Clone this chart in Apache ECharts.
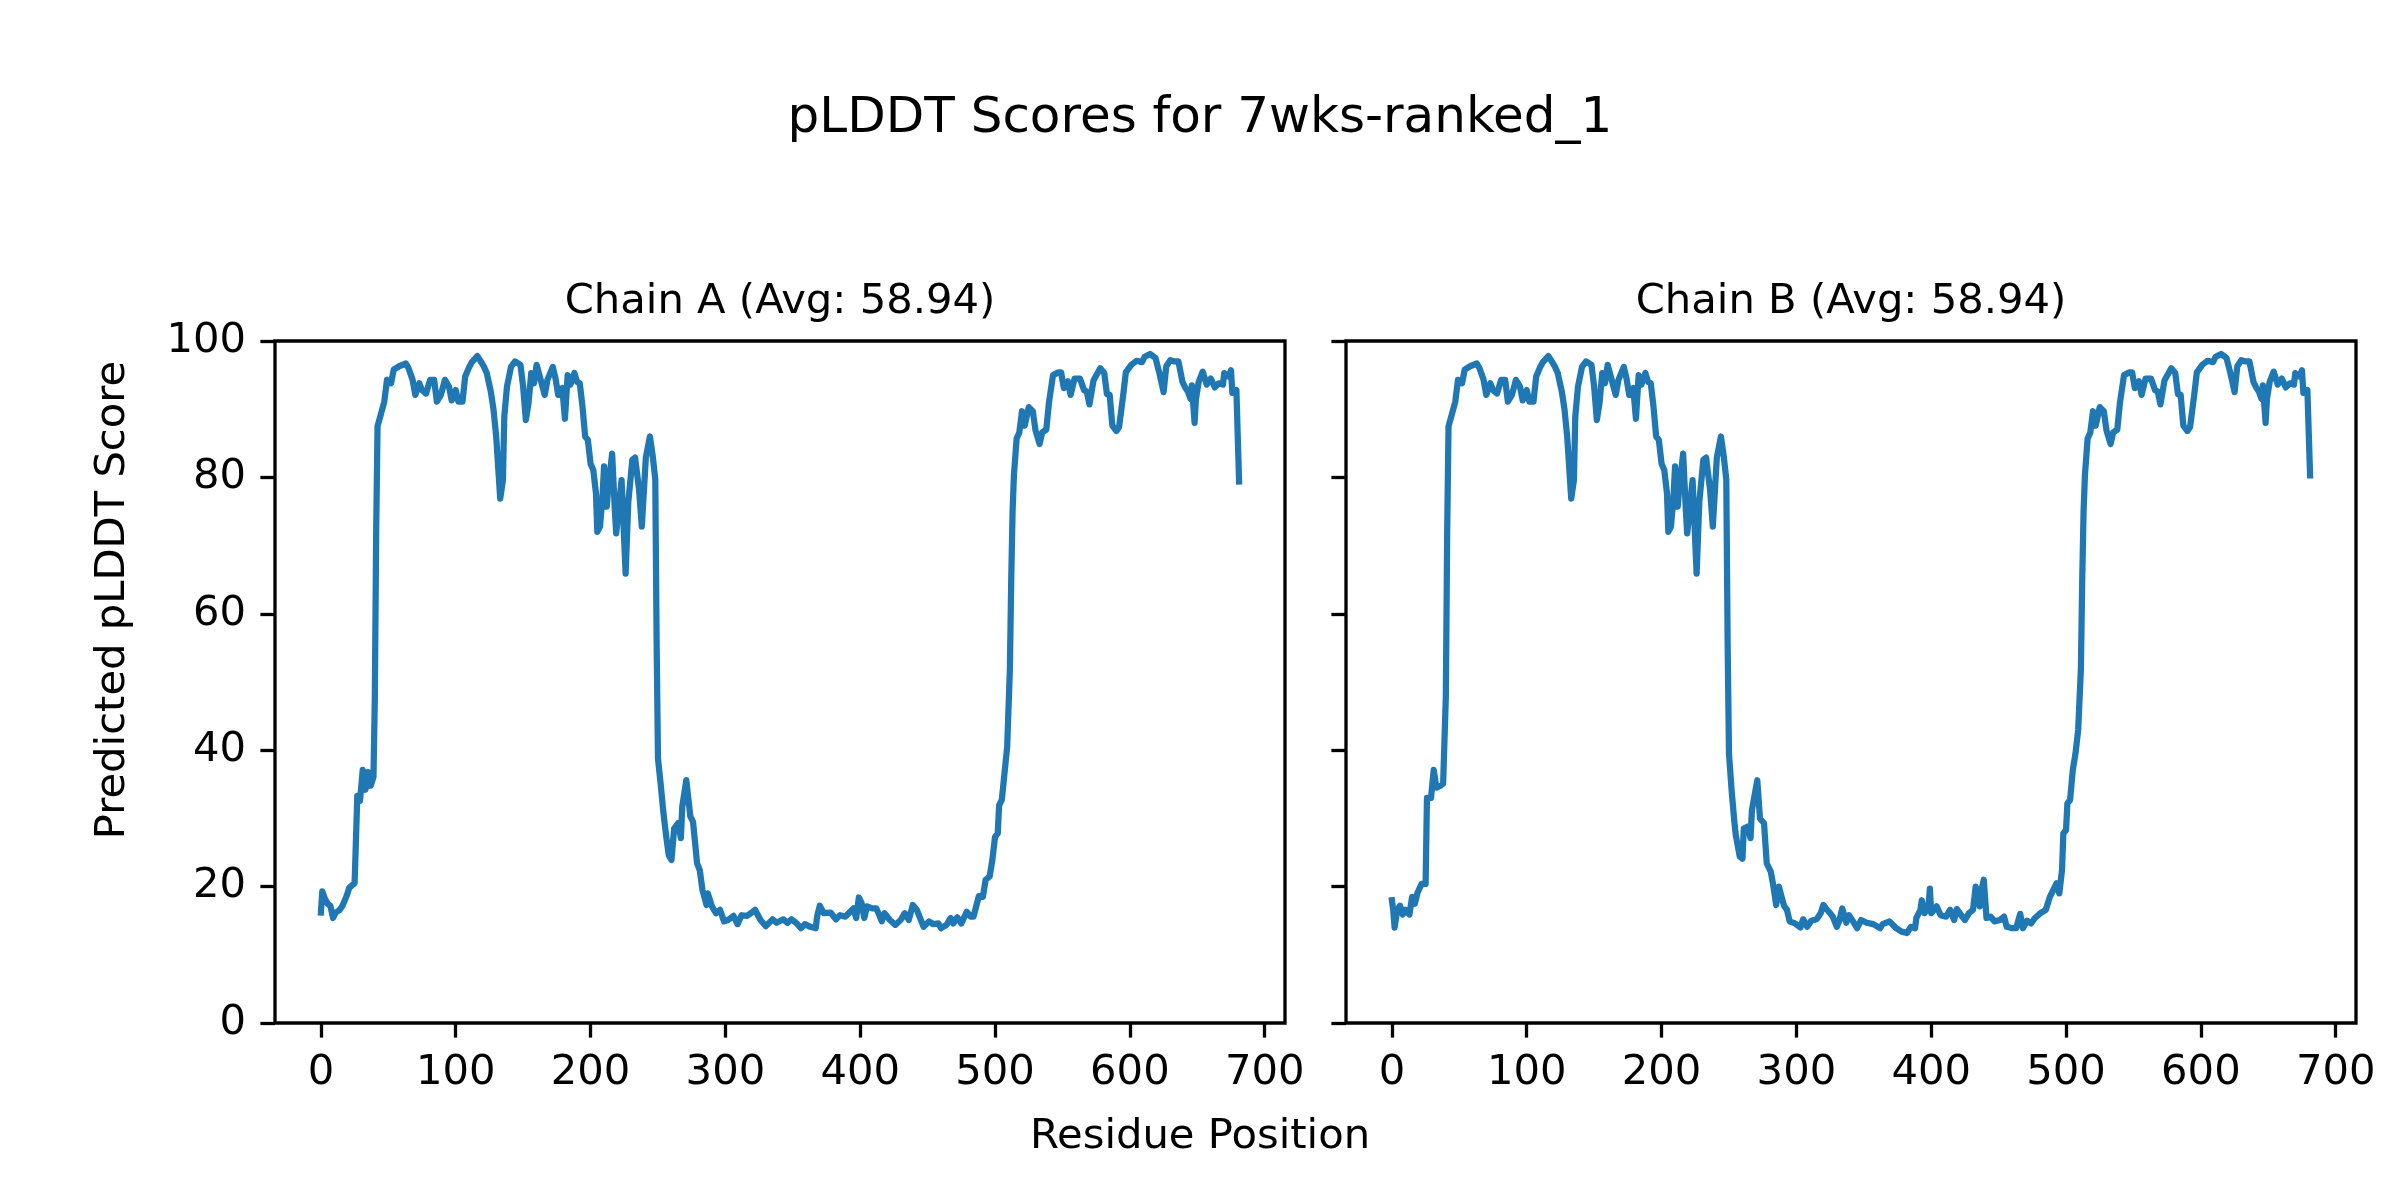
<!DOCTYPE html>
<html>
<head>
<meta charset="utf-8">
<script src="https://cdn.jsdelivr.net/npm/echarts@6/dist/echarts.min.js"></script>
<style>
html,body{margin:0;padding:0;background:#fff;}
#chart{width:2400px;height:1200px;}
</style>
</head>
<body>
<div id="chart"></div>
<script>
// ---- Data ----
const figureTitle = "pLDDT Scores for 7wks-ranked_1";
const chainTitles = ["Chain A (Avg: 58.94)", "Chain B (Avg: 58.94)"];
const xLabel = "Residue Position";
const yLabel = "Predicted pLDDT Score";
const xTicks = [0, 100, 200, 300, 400, 500, 600, 700];
const yTicks = [0, 20, 40, 60, 80, 100];

const chainAPositions = [0,1,3,5,7,9,11,14,16,19,21,25,27,29,31,33,35,37,39,40,41,42,44,47,49,52,54,58,63,65,68,70,73,75,78,81,84,86,89,92,95,97,100,102,105,107,110,112,116,118,121,123,126,128,130,131,133,135,136,138,141,144,148,150,152,154,156,158,160,163,166,168,172,174,176,179,181,183,185,188,190,192,194,196,198,200,202,204,205,207,209,210,212,213,216,218,219,221,223,226,228,231,233,236,238,241,244,246,248,249,250,252,254,256,258,260,262,265,267,268,271,274,276,279,281,283,286,287,290,293,296,299,302,306,309,312,316,319,322,326,330,335,338,343,346,349,353,356,359,363,367,368,370,373,378,382,385,389,392,395,397,399,401,403,405,409,412,416,418,422,426,430,433,436,439,442,444,447,451,454,458,460,464,467,469,472,475,479,482,484,486,488,491,493,496,498,500,502,503,505,507,509,511,512,513,514,516,518,520,522,525,528,530,533,535,538,540,543,547,549,551,554,556,559,563,566,568,570,573,578,581,583,585,587,590,592,595,597,601,605,609,611,615,619,622,625,627,630,633,636,639,641,643,645,646,648,649,651,654,657,660,663,666,669,670,673,675,676,679,681];
const chainAScores = [16.2,19.3,18.2,17.5,17.2,15.4,16.2,16.6,17.2,18.6,19.8,20.5,33.3,32.6,37.1,34.2,36.8,34.8,36.1,47.9,72.1,87.5,88.9,91.1,94.3,93.8,95.8,96.3,96.7,96.0,94.3,92.1,93.8,92.8,92.3,94.3,94.3,91.1,92.1,94.3,93.3,91.3,92.8,91.1,91.1,94.8,96.2,96.9,97.8,97.2,96.2,95.3,92.6,90.0,86.0,86.0,76.9,79.6,88.9,93.3,96.2,97.0,96.5,93.3,88.4,90.9,95.3,93.8,96.5,94.3,92.1,94.3,96.2,94.5,92.1,93.1,88.6,95.0,93.6,95.3,94.0,93.8,90.4,86.0,85.5,82.0,81.1,77.7,72.0,72.8,77.7,81.6,75.7,78.2,83.5,75.2,71.8,75.7,79.6,65.9,76.4,82.6,82.9,78.2,72.8,82.9,86.0,83.3,79.7,55.8,38.8,35.0,30.9,27.5,24.6,23.9,28.5,29.3,27.1,31.7,35.6,30.3,29.5,23.4,22.4,19.5,17.3,19.0,17.1,16.1,16.6,14.9,15.1,15.7,14.5,15.8,15.7,16.1,16.6,15.1,14.2,15.2,14.7,15.2,14.7,15.2,14.6,13.9,14.5,14.1,13.9,15.6,17.2,16.1,16.2,15.2,15.8,15.6,16.2,16.8,15.4,18.4,17.6,15.4,17.1,16.8,16.8,14.9,16.1,15.1,14.4,15.1,16.1,15.1,17.3,16.6,15.6,14.1,14.9,14.5,14.6,13.9,14.4,15.4,14.6,15.5,14.6,16.3,15.6,15.6,17.1,18.6,18.5,21.0,21.5,23.9,27.3,27.8,31.9,32.7,36.6,40.5,51.9,65.0,75.0,80.3,85.7,86.6,89.7,87.6,90.3,89.7,86.9,84.9,86.6,87.0,91.0,95.0,95.4,95.4,93.1,94.1,92.1,94.5,94.5,92.8,92.6,90.7,94.2,96.0,95.3,92.2,92.1,87.6,86.8,87.4,92.0,95.4,96.5,97.1,96.9,97.7,98.1,97.5,95.2,92.5,96.3,97.2,97.0,97.0,94.0,93.2,92.6,91.5,93.5,88.0,91.5,94.0,95.5,93.6,94.5,93.2,93.8,93.6,95.3,94.8,95.7,92.4,92.8,79.4];

const chainBPositions = [0,1,2,4,6,8,10,13,15,17,19,22,25,26,29,31,33,36,38,40,41,42,44,47,49,52,54,58,63,65,68,70,73,75,78,81,84,86,89,92,95,97,100,102,105,107,110,112,116,118,121,123,126,128,130,131,133,135,136,138,141,144,148,150,152,154,156,158,160,163,166,168,172,174,176,179,181,183,185,188,190,192,194,196,198,200,202,204,205,207,209,210,212,213,216,218,219,221,223,226,228,231,233,236,238,241,244,246,248,249,250,252,254,255,258,260,261,264,266,267,271,273,276,278,281,283,285,287,289,291,293,295,299,303,305,308,311,315,318,320,322,325,327,330,332,334,337,339,342,345,348,352,357,362,364,369,374,378,382,385,388,389,392,393,395,398,399,400,404,407,411,414,417,419,423,425,428,431,433,436,437,439,441,444,447,451,454,456,460,463,466,468,471,474,477,481,485,488,491,493,495,497,498,500,501,503,505,507,509,511,512,513,514,516,518,520,522,525,528,530,533,535,538,540,543,547,549,551,554,556,559,563,566,568,570,573,578,581,583,585,587,590,592,595,597,601,605,609,611,615,619,622,625,627,630,633,636,639,641,643,645,646,648,649,651,654,657,660,663,666,669,670,673,675,676,679,681];
const chainBScores = [18.0,16.5,14.0,16.6,17.2,15.9,16.6,15.9,18.5,17.5,19.1,20.4,20.4,33.0,33.0,37.1,34.5,34.8,35.1,47.9,72.1,87.5,88.9,91.1,94.3,93.8,95.8,96.3,96.7,96.0,94.3,92.1,93.8,92.8,92.3,94.3,94.3,91.1,92.1,94.3,93.3,91.3,92.8,91.1,91.1,94.8,96.2,96.9,97.8,97.2,96.2,95.3,92.6,90.0,86.0,86.0,76.9,79.6,88.9,93.3,96.2,97.0,96.5,93.3,88.4,90.9,95.3,93.8,96.5,94.3,92.1,94.3,96.2,94.5,92.1,93.1,88.6,95.0,93.6,95.3,94.0,93.8,90.4,86.0,85.5,82.0,81.1,77.7,72.0,72.8,77.7,81.6,75.7,78.2,83.5,75.2,71.8,75.7,79.6,65.9,76.4,82.6,82.9,78.2,72.8,82.9,86.0,83.3,79.7,55.8,39.5,34.0,29.5,27.6,24.4,24.1,28.5,28.8,27.1,31.2,35.6,30.0,29.3,23.4,22.2,20.0,17.3,20.0,18.5,17.1,16.6,14.9,14.6,14.0,15.2,14.1,15.0,15.2,16.1,17.3,16.8,16.1,15.6,14.1,15.1,16.8,14.7,15.8,14.9,13.9,15.1,14.7,14.5,13.9,14.5,14.9,13.9,13.4,13.2,14.1,13.9,15.4,16.6,18.0,16.1,17.1,19.7,16.1,17.1,15.8,15.6,16.6,15.1,16.7,15.6,15.1,16.1,16.6,20.0,17.1,19.3,21.0,15.4,15.6,14.9,15.1,15.6,14.1,13.9,13.9,16.0,13.9,15.0,14.6,15.4,16.1,16.6,18.5,19.7,20.5,19.0,22.4,27.8,28.3,32.2,32.7,37.1,39.5,43.0,51.9,65.0,75.0,80.3,85.7,86.6,89.7,87.6,90.3,89.7,86.9,84.9,86.6,87.0,91.0,95.0,95.4,95.4,93.1,94.1,92.1,94.5,94.5,92.8,92.6,90.7,94.2,96.0,95.3,92.2,92.1,87.6,86.8,87.4,92.0,95.4,96.5,97.1,96.9,97.7,98.1,97.5,95.2,92.5,96.3,97.2,97.0,97.0,94.0,93.2,92.6,91.5,93.5,88.0,91.5,94.0,95.5,93.6,94.5,93.2,93.8,93.6,95.3,94.8,95.7,92.4,92.8,80.3];

// ---- Chart ----
const FONT = '"DejaVu Sans", "Liberation Sans", sans-serif';
const BASE = 41.7;
const LINE_COLOR = '#1f77b4';
const SPINE = 3.3;
const TICK_LEN = 14.6;

const grids = [
  {left: 275, top: 341, width: 1010, height: 682},
  {left: 1346, top: 341, width: 1010, height: 682}
];

function toPairs(xs, ys) { return xs.map((x, i) => [x, ys[i]]); }

const chart = echarts.init(document.getElementById('chart'), null, {renderer: 'canvas'});

const option = {
  animation: false,
  backgroundColor: '#ffffff',
  grid: grids.map(g => Object.assign({show: true, borderColor: '#000', borderWidth: SPINE, backgroundColor: 'transparent', containLabel: false}, g)),
  xAxis: [0, 1].map(i => ({
    type: 'value', gridIndex: i, min: -34.05, max: 715.05, position: 'bottom',
    splitLine: {show: false},
    axisLine: {show: false, onZero: false},
    axisTick: {show: true, length: TICK_LEN, lineStyle: {color: '#000', width: SPINE}, customValues: xTicks},
    axisLabel: {show: true, margin: 29, color: '#000', fontSize: BASE, fontFamily: FONT, customValues: xTicks}
  })),
  yAxis: [0, 1].map(i => ({
    type: 'value', gridIndex: i, min: 0, max: 100, position: 'left',
    splitLine: {show: false},
    axisLine: {show: false, onZero: false},
    axisTick: {show: true, length: TICK_LEN, lineStyle: {color: '#000', width: SPINE}, customValues: yTicks},
    axisLabel: {show: i === 0, margin: 29, color: '#000', fontSize: BASE, fontFamily: FONT, customValues: yTicks}
  })),
  series: [
    {type: 'line', xAxisIndex: 0, yAxisIndex: 0, data: toPairs(chainAPositions, chainAScores)},
    {type: 'line', xAxisIndex: 1, yAxisIndex: 1, data: toPairs(chainBPositions, chainBScores)}
  ].map(s => Object.assign(s, {
    showSymbol: false, symbol: 'none', smooth: false,
    lineStyle: {color: LINE_COLOR, width: 6.25, join: 'round', cap: 'square'},
    itemStyle: {color: LINE_COLOR}, z: 3
  })),
  graphic: [
    {type: 'text', x: 1200, y: 119, style: {text: figureTitle, fill: '#000', fontSize: 50, fontFamily: FONT, textAlign: 'center', textVerticalAlign: 'middle'}},
    {type: 'text', x: grids[0].left + grids[0].width / 2, y: 302, style: {text: chainTitles[0], fill: '#000', fontSize: BASE, fontFamily: FONT, textAlign: 'center', textVerticalAlign: 'middle'}},
    {type: 'text', x: grids[1].left + grids[1].width / 2, y: 302, style: {text: chainTitles[1], fill: '#000', fontSize: BASE, fontFamily: FONT, textAlign: 'center', textVerticalAlign: 'middle'}},
    {type: 'text', x: 1200, y: 1137, style: {text: xLabel, fill: '#000', fontSize: BASE, fontFamily: FONT, textAlign: 'center', textVerticalAlign: 'middle'}},
    {type: 'text', x: 113, y: 600, rotation: Math.PI / 2, style: {text: yLabel, fill: '#000', fontSize: BASE, fontFamily: FONT, textAlign: 'center', textVerticalAlign: 'middle'}}
  ]
};
chart.setOption(option);
</script>
</body>
</html>
